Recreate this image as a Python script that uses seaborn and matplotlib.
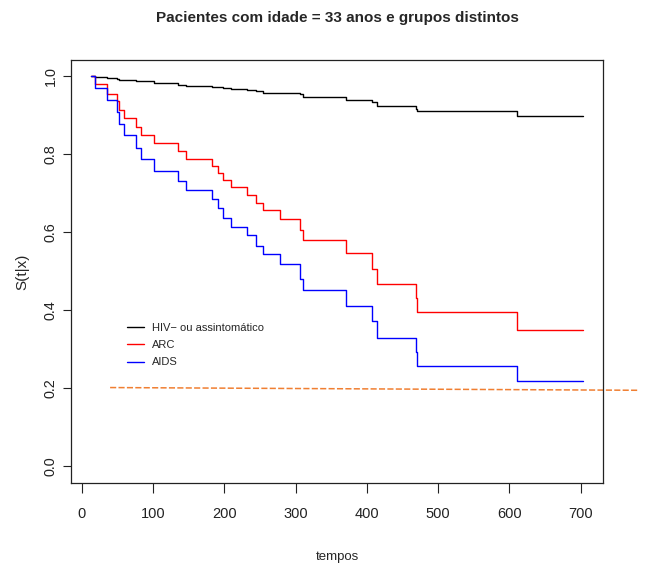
import matplotlib
matplotlib.use("Agg")
import matplotlib.pyplot as plt
import numpy as np
import pandas as pd
import seaborn as sns

# Estimated survival curves S(t|x) for a 33-year-old patient in each group
tempos = [13, 19, 36, 49, 52, 59, 77, 84, 101, 135, 147, 183, 192, 199, 209,
          232, 245, 255, 278, 306, 311, 371, 407, 414, 469, 470, 611]
t_fim = 703

s_hiv = [1.000, 0.998, 0.996, 0.993, 0.990, 0.990, 0.987, 0.987, 0.981, 0.978,
         0.975, 0.973, 0.973, 0.970, 0.967, 0.964, 0.961, 0.957, 0.957, 0.953,
         0.947, 0.938, 0.933, 0.924, 0.915, 0.910, 0.898]
s_arc = [1.000, 0.979, 0.955, 0.936, 0.912, 0.893, 0.870, 0.848, 0.827, 0.808,
         0.787, 0.769, 0.752, 0.733, 0.716, 0.695, 0.675, 0.656, 0.633, 0.605,
         0.579, 0.545, 0.505, 0.466, 0.430, 0.394, 0.349]
s_aids = [1.000, 0.969, 0.938, 0.907, 0.876, 0.848, 0.816, 0.786, 0.756, 0.731,
          0.707, 0.685, 0.662, 0.637, 0.614, 0.591, 0.565, 0.543, 0.517, 0.479,
          0.451, 0.411, 0.372, 0.329, 0.292, 0.257, 0.218]

grupos = ["HIV\u2212 ou assintomático", "ARC", "AIDS"]
cores = ["black", "#ff0000", "#0000ff"]

# Reference line
ref_x = [40, 781]
ref_y = [0.201, 0.194]

frames = []
for g, s in zip(grupos, [s_hiv, s_arc, s_aids]):
    frames.append(pd.DataFrame({
        "tempo": tempos + [t_fim],
        "S": s + [s[-1]],
        "grupo": g,
    }))
df = pd.concat(frames, ignore_index=True)

sns.set_style("white")
fonte = ["Liberation Sans", "DejaVu Sans"]
plt.rcParams["font.family"] = fonte

W, H = 649, 567
fig = plt.figure(figsize=(W / 100, H / 100), dpi=100)
ax = fig.add_axes([71.3 / W, 1 - 482.7 / H, 532 / W, 422.7 / H])

sns.lineplot(data=df, x="tempo", y="S", hue="grupo", palette=cores,
             hue_order=grupos, estimator=None, drawstyle="steps-post",
             linewidth=1.0, legend=False, ax=ax)

ax.plot(ref_x, ref_y, color="#f07f32", linestyle=(0, (4, 1.5)),
        linewidth=1.1, clip_on=False)

ax.set_xlim(-14.4, 731.6)
ax.set_ylim(-0.043, 1.041)
ax.set_xticks(range(0, 701, 100))
ax.set_yticks([0.0, 0.2, 0.4, 0.6, 0.8, 1.0])
ax.set_yticklabels(["0.0", "0.2", "0.4", "0.6", "0.8", "1.0"],
                   rotation=90, va="center", fontsize=10.4)
ax.set_xticklabels([str(v) for v in range(0, 701, 100)], fontsize=10.5)
ax.tick_params(axis="x", direction="out", length=7.5, width=0.8, pad=10,
               bottom=True, colors="#222222")
ax.tick_params(axis="y", direction="out", length=6, width=0.8, pad=4,
               left=True, colors="#222222")
for sp in ax.spines.values():
    sp.set_color("#222222")
    sp.set_linewidth(0.9)

ax.set_xlabel("tempos", fontsize=9.5, labelpad=21.5)
ax.set_ylabel("S(t|x)", fontsize=11, labelpad=10)

fig.text(337.3 / W, 1 - 18 / H,
         "Pacientes com idade = 33 anos e grupos distintos",
         ha="center", va="center", fontweight="bold", fontsize=11)

handles = [plt.Line2D([], [], color=c, linewidth=1.0) for c in cores]
ax.legend(handles, grupos, loc="upper left",
          bbox_to_anchor=((126.7 - 71.3) / 532, (482.7 - 323) / 422.7),
          frameon=False, borderpad=0, borderaxespad=0, handlelength=1.6,
          handletextpad=0.72, labelspacing=0.65,
          prop={"size": 8})

fig.savefig("out.png", dpi=100)
